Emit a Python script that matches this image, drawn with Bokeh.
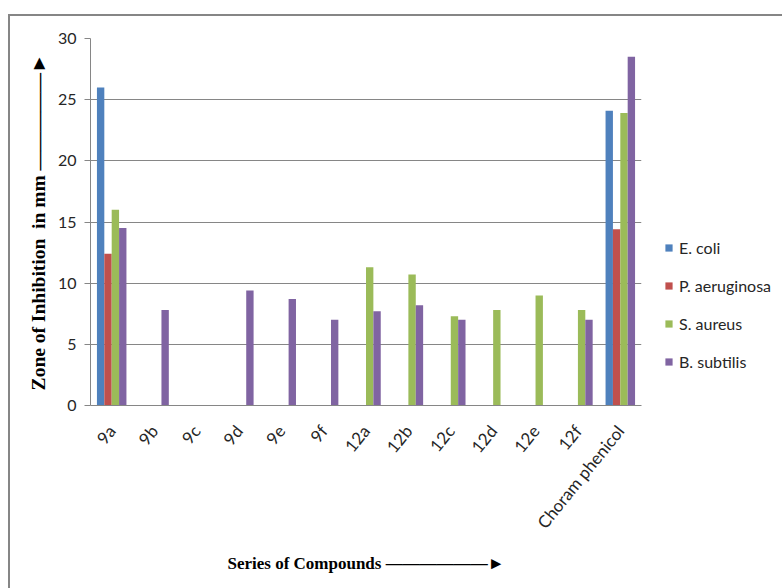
import math
from bokeh.plotting import figure
from bokeh.models import ColumnDataSource, Range1d, FixedTicker, Legend, LegendItem
from bokeh.transform import dodge
from bokeh.embed import file_html
from bokeh.resources import INLINE

# ---- data ----
compounds = ["9a", "9b", "9c", "9d", "9e", "9f", "12a", "12b", "12c", "12d", "12e", "12f",
             "Choram phenicol"]
e_coli = [26.0, 0, 0, 0, 0, 0, 0, 0, 0, 0, 0, 0, 24.1]
p_aeruginosa = [12.4, 0, 0, 0, 0, 0, 0, 0, 0, 0, 0, 0, 14.4]
s_aureus = [16.0, 0, 0, 0, 0, 0, 11.3, 10.7, 7.3, 7.8, 9.0, 7.8, 23.9]
b_subtilis = [14.5, 7.8, 0, 9.4, 8.7, 7.0, 7.7, 8.2, 7.0, 0, 0, 7.0, 28.5]
series_names = ["E. coli", "P. aeruginosa", "S. aureus", "B. subtilis"]
y_ticks = [0, 5, 10, 15, 20, 25, 30]
y_title = "Zone of Inhibition\u00a0 in mm"
x_title = "Series of Compounds"

colors = ["#4F81BD", "#C0504D", "#9BBB59", "#8064A2"]

source = ColumnDataSource(dict(cat=compounds, e=e_coli, p=p_aeruginosa,
                               s=s_aureus, b=b_subtilis))

p = figure(x_range=compounds, y_range=Range1d(0, 30),
           frame_width=551, frame_height=367,
           output_backend="svg", toolbar_location=None,
           min_border_left=80, min_border_right=141, min_border_top=22,
           min_border_bottom=183)
p.styles = {"margin-left": "8px", "margin-top": "14px",
            "border-left": "2px solid #868686", "border-top": "2px solid #868686"}
p.x_range.range_padding = 0
p.outline_line_color = None
p.background_fill_color = "white"
p.border_fill_color = "white"

bw = 0.174
offsets = [-1.5 * bw, -0.5 * bw, 0.5 * bw, 1.5 * bw]
renderers = []
for col, off, c in zip(["e", "p", "s", "b"], offsets, colors):
    r = p.vbar(x=dodge("cat", off, range=p.x_range), top=col, width=bw, bottom=0,
               source=source, fill_color=c, line_color=None)
    renderers.append(r)

# axes
p.xgrid.grid_line_color = None
p.ygrid.grid_line_color = "#868686"
p.ygrid.grid_line_width = 1
p.yaxis.ticker = FixedTicker(ticks=y_ticks)
p.yaxis.axis_line_color = "#868686"
p.yaxis.major_tick_line_color = "#868686"
p.yaxis.major_tick_out = 6
p.yaxis.major_tick_in = 0
p.yaxis.minor_tick_line_color = None
p.yaxis.major_label_text_font = "Lato"
p.yaxis.major_label_text_font_size = "16px"
p.yaxis.major_label_text_color = "#262626"
p.yaxis.major_label_standoff = 8

p.xaxis.axis_line_color = "#868686"
p.xaxis.major_tick_line_color = None
p.xaxis.minor_tick_line_color = None
p.xaxis.major_label_orientation = 0.89
p.xaxis.major_label_text_font = "Lato"
p.xaxis.major_label_text_font_size = "17px"
p.xaxis.major_label_text_color = "#262626"
p.xaxis.major_label_standoff = 16

# axis titles, with arrows drawn as text characters
arrow_up = " " + "\u2014" * 5 + "\u25BA"
arrow_right = " " + "\u2014" * 6 + "\u25BA"
p.yaxis.axis_label = y_title + arrow_up
p.xaxis.axis_label = x_title + arrow_right
for ax in (p.xaxis, p.yaxis):
    ax.axis_label_text_font = "Liberation Serif"
    ax.axis_label_text_font_style = "bold"
    ax.axis_label_text_color = "black"
p.yaxis.axis_label_text_font_size = "19.5px"
p.xaxis.axis_label_text_font_size = "17px"
p.yaxis.axis_label_standoff = 6
p.xaxis.axis_label_standoff = 12

# legend
legend = Legend(items=[LegendItem(label=n, renderers=[r]) for n, r in zip(series_names, renderers)],
                location=(23, 34), orientation="vertical", border_line_color=None,
                background_fill_alpha=0, glyph_width=9, glyph_height=9,
                label_text_font="Lato", label_text_font_size="16px",
                label_text_color="#262626", label_height=20, spacing=18, padding=10,
                margin=0, label_standoff=6)
p.add_layout(legend, "right")

open("out.html", "w").write(file_html(p, INLINE))
